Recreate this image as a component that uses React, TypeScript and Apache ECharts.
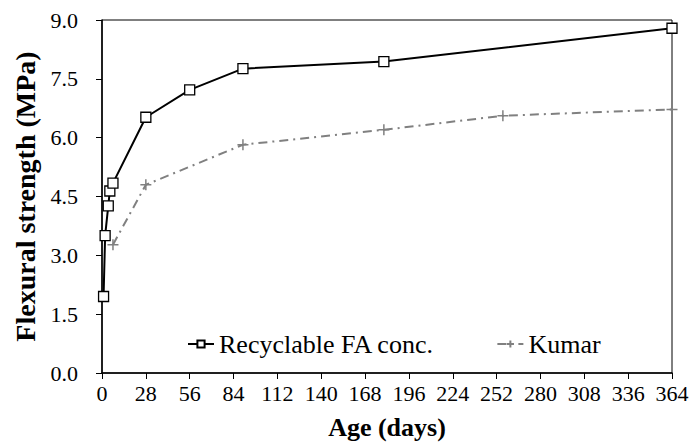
import React, { useEffect, useRef } from "react";
import * as echarts from "echarts";

const recycDays = [1, 2, 4, 5, 7, 28, 56, 90, 180, 364];
const recycValues = [1.95, 3.5, 4.26, 4.64, 4.84, 6.52, 7.22, 7.76, 7.94, 8.79];
const kumarDays = [7, 28, 90, 180, 256, 364];
const kumarValues = [3.27, 4.8, 5.82, 6.2, 6.56, 6.72];

const FONT = "Liberation Serif";

export default function App() {
  const ref = useRef<HTMLDivElement>(null);
  useEffect(() => {
    const chart = echarts.init(ref.current!, null, { renderer: "svg" });
    chart.setOption({
      animation: false,
      backgroundColor: "#fff",
      grid: {
        left: 102,
        right: 18,
        top: 20,
        bottom: 73,
        containLabel: false,
        outerBoundsMode: "none",
        show: true,
        borderColor: "#000",
        borderWidth: 1,
        backgroundColor: "transparent",
      },
      legend: {
        left: 182,
        top: 326,
        itemWidth: 26,
        itemHeight: 9,
        itemGap: 62,
        textStyle: { fontFamily: FONT, fontSize: 26, color: "#000" },
        data: ["Recyclable FA conc.", "Kumar"],
      },
      xAxis: {
        type: "value",
        min: 0,
        max: 364,
        interval: 28,
        name: "Age (days)",
        nameLocation: "middle",
        nameGap: 41,
        nameTextStyle: { fontFamily: FONT, fontSize: 26, fontWeight: "bold", color: "#000" },
        axisLine: { show: true, lineStyle: { color: "#000", width: 1.5 } },
        axisTick: { show: true, inside: false, length: 6, lineStyle: { color: "#000" } },
        axisLabel: { fontFamily: FONT, fontSize: 22, color: "#000", margin: 9 },
        splitLine: { show: false },
      },
      yAxis: {
        type: "value",
        min: 0,
        max: 9,
        interval: 1.5,
        name: "Flexural strength (MPa)",
        nameLocation: "middle",
        nameGap: 62,
        nameTextStyle: { fontFamily: FONT, fontSize: 28, fontWeight: "bold", color: "#000" },
        axisLine: { show: true, lineStyle: { color: "#000", width: 1.5 } },
        axisTick: { show: true, inside: false, length: 6, lineStyle: { color: "#000" } },
        axisLabel: {
          fontFamily: FONT,
          fontSize: 22,
          color: "#000",
          margin: 24,
          formatter: (v: number) => v.toFixed(1),
        },
        splitLine: { show: false },
      },
      series: [
        {
          name: "Recyclable FA conc.",
          type: "line",
          data: recycDays.map((d, i) => [d, recycValues[i]]),
          symbol: "rect",
          symbolSize: 10,
          showAllSymbol: true,
          lineStyle: { color: "#000", width: 2 },
          itemStyle: { color: "#fff", borderColor: "#000", borderWidth: 1.3 },
          z: 3,
        },
        {
          name: "Kumar",
          type: "line",
          data: kumarDays.map((d, i) => [d, kumarValues[i]]),
          symbol: "path://M5,0L5,10M0,5L10,5",
          symbolSize: 11,
          showAllSymbol: true,
          lineStyle: { color: "#808080", width: 2, type: [9, 5, 2, 5] },
          itemStyle: { color: "#808080", borderColor: "#808080", borderWidth: 1.5 },
          z: 2,
        },
      ],
    });
    return () => chart.dispose();
  }, []);
  return <div ref={ref} style={{ width: 690, height: 446, position: "absolute", left: 0, top: 0 }} />;
}
